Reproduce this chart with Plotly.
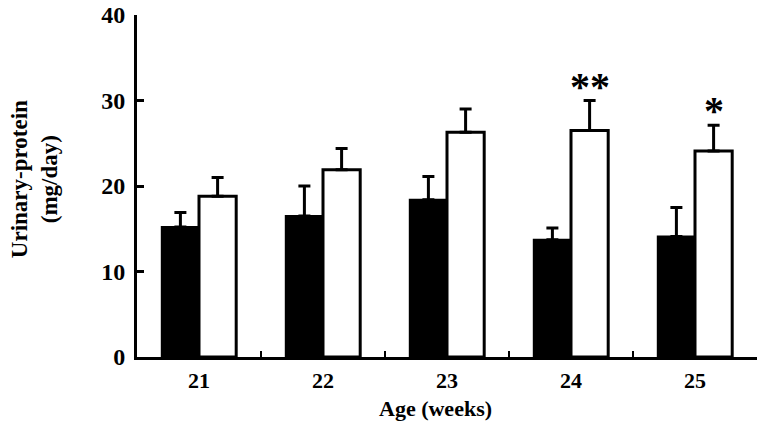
import plotly.graph_objects as go

ages = ["21", "22", "23", "24", "25"]
black_vals = [15.2, 16.5, 18.4, 13.7, 14.1]
black_err = [1.7, 3.5, 2.7, 1.4, 3.4]
white_vals = [18.8, 21.9, 26.3, 26.5, 24.1]
white_err = [2.2, 2.5, 2.7, 3.5, 3.0]
signif = ["", "", "", "**", "*"]
y_ticks = [0, 10, 20, 30, 40]

FONT = "Liberation Serif"

fig = go.Figure()
fig.add_trace(go.Bar(
    x=ages, y=black_vals, name="black",
    marker=dict(color="black", line=dict(color="black", width=2)),
    error_y=dict(type="data", array=black_err, arrayminus=[0]*5, symmetric=False,
                 color="black", thickness=3, width=6),
))
fig.add_trace(go.Bar(
    x=ages, y=white_vals, name="white",
    marker=dict(color="white", line=dict(color="black", width=3)),
    error_y=dict(type="data", array=white_err, arrayminus=[0]*5, symmetric=False,
                 color="black", thickness=3, width=6),
))

for i, s in enumerate(signif):
    if s:
        fig.add_annotation(
            x=i + 0.15, xref="x", y=white_vals[i] + white_err[i], yref="y",
            text="<b>" + s + "</b>", showarrow=False, yanchor="bottom", yshift=-10,
            font=dict(family=FONT, size=40, color="black"),
        )

# axis titles
fig.add_annotation(
    x=0, xref="paper", xshift=-103, y=0.52, yref="paper",
    text="<b>Urinary-protein<br>(mg/day)</b>", textangle=-90, showarrow=False,
    xanchor="center", yanchor="middle",
    font=dict(family=FONT, size=23, color="black"),
)
fig.add_annotation(
    x=0.482, xref="paper", y=-0.152, yref="paper",
    text="<b>Age (weeks)</b>", showarrow=False,
    xanchor="center", yanchor="middle",
    font=dict(family=FONT, size=22, color="black"),
)

fig.update_layout(
    width=760, height=425,
    margin=dict(l=137, r=3, t=15, b=68),
    paper_bgcolor="white", plot_bgcolor="white",
    barmode="group", bargap=0.4, bargroupgap=0,
    showlegend=False,
    font=dict(family=FONT, color="black"),
)
fig.update_xaxes(
    type="category", range=[-0.5, 4.5],
    tickvals=ages, ticktext=["<b>%s</b>" % a for a in ages],
    showline=True, linecolor="black", linewidth=3,
    ticks="inside", tickson="boundaries", ticklen=6, tickwidth=2, tickcolor="black",
    tickfont=dict(family=FONT, size=22, color="black"),
    ticklabelstandoff=2,
    showgrid=False, zeroline=False,
)
fig.update_yaxes(
    range=[0, 40], tickvals=y_ticks,
    ticktext=["<b>%d</b>" % v for v in y_ticks],
    showline=True, linecolor="black", linewidth=3,
    ticks="inside", ticklen=7, tickwidth=3, tickcolor="black",
    tickfont=dict(family=FONT, size=24, color="black"),
    ticklabelstandoff=4, ticklabeloverflow="allow",
    showgrid=False, zeroline=False,
)

fig.write_html("out.html", config={"displayModeBar": False},
               post_script="document.body.style.margin='0';")
